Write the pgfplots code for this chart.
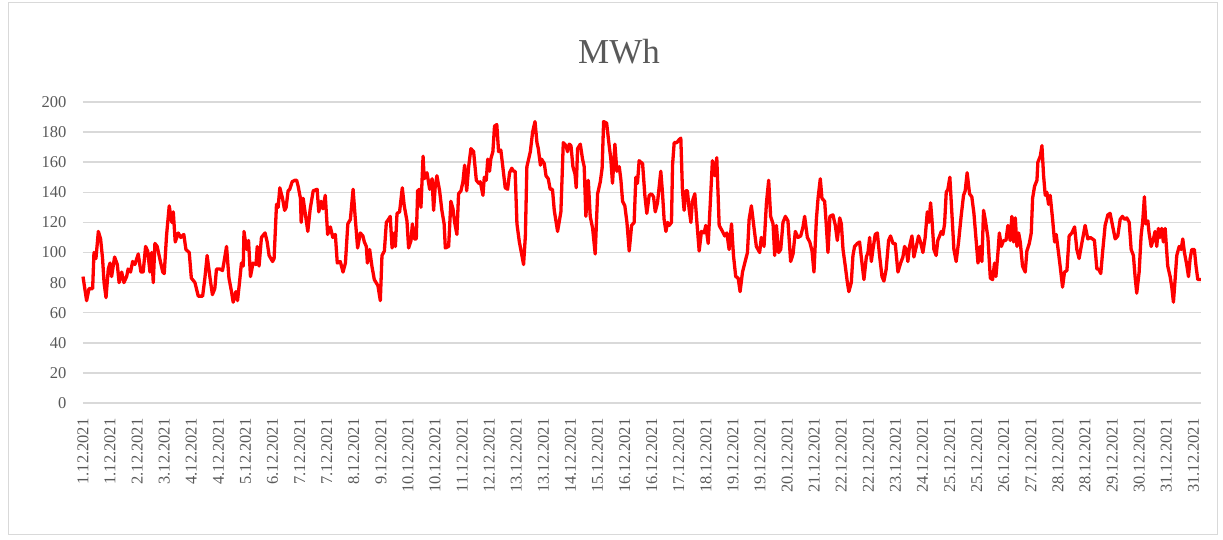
\documentclass[border=0pt]{standalone}
\usepackage{fontspec}
\setmainfont{Liberation Serif}
\usepackage{pgfplots}
\pgfplotsset{compat=1.18}
\definecolor{txtgray}{HTML}{595959}
\definecolor{gridgray}{HTML}{D9D9D9}
\begin{document}
\begin{tikzpicture}[x=1pt,y=1pt]
\path[use as bounding box] (-83,-137) rectangle (1140,403);
\draw[gridgray, line width=1pt] (-74,400) rectangle (1134,-132);
\node[text=txtgray, font=\fontsize{35}{42}\selectfont] at (536,351) {MWh};
\begin{axis}[at={(0,0)}, anchor=south west, scale only axis,
  width=1118pt, height=301pt,
  xmin=0, xmax=743, ymin=0, ymax=200,
  ytick={0,20,...,200},
  xtick={0,18,...,738},
  xticklabels={1.12.2021,1.12.2021,2.12.2021,3.12.2021,4.12.2021,4.12.2021,5.12.2021,6.12.2021,7.12.2021,7.12.2021,8.12.2021,9.12.2021,10.12.2021,10.12.2021,11.12.2021,12.12.2021,13.12.2021,13.12.2021,14.12.2021,15.12.2021,16.12.2021,16.12.2021,17.12.2021,18.12.2021,19.12.2021,19.12.2021,20.12.2021,21.12.2021,22.12.2021,22.12.2021,23.12.2021,24.12.2021,25.12.2021,25.12.2021,26.12.2021,27.12.2021,28.12.2021,28.12.2021,29.12.2021,30.12.2021,31.12.2021,31.12.2021},
  ymajorgrids,
  major grid style={gridgray, line width=1.5pt},
  axis line style={draw=none},
  tick style={draw=none},
  ticklabel style={font=\fontsize{16.5}{19}\selectfont, text=txtgray},
  xticklabel style={rotate=90, anchor=east, xshift=-12pt},
  yticklabel style={xshift=-13pt},
  /pgf/number format/assume math mode=true,
  clip=false]
\addplot[red, line width=3.3pt, line join=round] coordinates {
(0,84) (2.4,68) (4,76) (6.4,76) (7.3,100) (8.6,96) (10.2,114) (11.7,109) (13,96) (14,80)
(15.3,70) (16.8,89) (18,93) (19,84) (21,97) (22.8,92) (24,80) (25.7,87) (27.2,80) (29,84)
(30,89) (31.6,87) (33,94) (34.5,92) (36.7,99) (38.5,87) (40,87) (41.6,104) (43,101) (44.5,87)
(45.6,100) (46.7,80) (47.8,106) (49.3,104) (51,96) (53,87) (54,86) (55.5,111) (57.3,131) (59,120)
(60,127) (61.3,107) (63.3,113) (65,110) (67,112) (68.4,102) (70.6,100) (72,83) (74.4,80) (76.6,71)
(79.5,71) (81,83) (82.5,98) (84.3,84) (86,72) (87.6,76) (88.7,89) (91,89) (92.7,88) (93.6,93)
(95.4,104) (97,83) (98.7,74) (99.8,67) (101.6,74) (102.7,68) (104,80) (105.3,93) (106.5,91) (107,114)
(108.7,102) (110,108) (111.3,84) (113,93) (115,92) (115.8,104) (117,91) (118.6,110) (121,113) (122.4,107)
(123.7,98) (126,94) (127,96) (128.6,132) (129.7,130) (130.8,143) (132.6,136) (134,128) (135,130) (136.3,141)
(137.4,142) (139,147) (140.8,148) (142,148) (143,144) (144.5,136) (145,120) (146.3,136)
(149.4,114) (151,129) (153,141) (155.6,142) (156.7,127) (158.2,134) (159.5,129) (161,138) (162.6,112) (164.4,117)
(166,110) (167.7,112) (169,93) (171,94) (172.8,87) (174.4,93) (176,119) (177.7,122) (179.5,142) (181,122)
(182.5,103) (184.3,113) (186,111) (187,107) (188.3,104) (189,93) (190.5,102) (192,91) (193.6,82) (196,78)
(197.6,68) (198.7,98) (200.3,101) (201.6,120) (203,122) (204.2,124) (205.4,103) (207,113) (207.6,104) (208.7,126)
(210.4,127) (212.2,143) (213.5,131) (215.3,121) (216.4,103) (218,108) (218.9,119) (220.2,109) (221.5,109) (222.4,141)
(223.7,142) (224.6,130) (226,164) (226.8,149) (228.6,153) (230.4,142) (232,149) (233,128) (234.1,144) (235.2,151)
(237,141) (238.5,128) (240,119) (240.8,103) (243,104) (244.5,134) (245.9,129) (247,120) (248.5,112) (249.6,139)
(251.2,141) (252.5,147) (253.6,158) (255,141) (256.3,157) (257.8,169) (259.6,167) (261.4,148) (263,146) (264,147)
(265.8,138) (266.7,150) (268,148) (269,162) (270.2,154) (271,162) (272.4,167) (273.5,184) (275,185) (276.2,167)
(277.7,168) (279,157) (280.6,143) (282.2,142) (283.5,153) (285,156) (286.1,154) (287.2,154) (288.4,119) (290,107)
(291.7,98) (292.8,92) (294,111) (295,157)
(297.3,167) (298.8,180) (300.4,187) (301.7,173) (302.6,169) (304,158) (304.8,162) (306.6,159) (307.7,151) (309.2,149)
(310.5,142) (312,142) (313.2,128) (315.4,114) (317.6,127) (319.2,173) (321,171) (322,167) (323.2,172) (324.3,171)
(325.6,157) (327,152) (327.8,143) (328.7,169) (330.5,172) (332,162) (333.1,157) (334.2,124) (335.8,148) (337.1,124)
(338.7,116) (340.4,99) (342,139) (343.8,147) (345,156) (346,187) (348,186) (349.7,171) (350.8,162) (351.9,146)
(353.5,172) (354.8,154) (356.4,157) (357.5,148) (358.6,134) (360.1,131) (361.5,120) (363,101) (364.6,118) (366.3,120)
(367.4,150) (368.5,146) (369.6,161) (371.9,159) (373.4,138) (374.7,126) (376.3,138) (377.8,139) (379.2,137) (380.3,127)
(381.8,133) (384,154) (385.1,140) (386.2,122) (387.4,114) (388.5,120) (389.6,118) (391.1,120) (391.8,158) (392.9,173)
(394.7,173) (396.2,175) (397.3,176) (398.4,141) (399.5,128) (400.6,141) (401.7,141) (402.8,129) (404,120) (405,134)
(406.6,139) (408,120) (409.5,101) (411,114) (412.8,113) (413.9,118) (415.5,106) (416.8,131) (418.3,161) (419.9,151)
(421.2,163) (422.8,118) (425,114) (426.5,111) (427.9,113) (429.4,102) (431,119) (432.3,98) (433.8,84) (435.4,83)
(436.7,74) (438.3,87) (439.8,93) (441.6,100) (442.7,122)
(444.2,131) (446,116) (447.5,104) (449.7,100) (450.8,110) (452.6,104) (454.2,133) (455.7,148) (457,124) (458.6,119)
(459.7,98) (460.8,118) (462.3,100) (463.7,102) (465.2,120) (466.8,124) (468.5,121) (470.3,94) (471.9,99) (473.4,114)
(475.2,110) (477,111) (478.5,117) (479.6,124) (481.4,110) (483,107) (484.5,101) (485.8,87) (487.4,122) (488.5,136)
(490,149) (491.1,136) (492.9,134) (494,118) (495.1,100) (496.4,124) (498.4,125) (500,118) (501.3,108) (502.9,123)
(504,119) (505.1,102) (506.6,91) (508,80) (509,74) (510.6,80) (511.7,98) (512.8,104) (514.6,106) (516.1,107)
(517.7,93) (519,82) (520.6,97) (521.7,100) (522.8,110) (523.9,94) (525,102) (526.5,112) (527.9,113) (529.4,98)
(531,84) (532.3,81) (533.8,89) (535.4,108) (536.7,111) (538.3,106) (539.8,106) (541.6,87) (543.4,93) (544.9,97)
(546,104) (547.1,102) (548.2,94) (549.3,104) (550.9,111) (552.2,97) (553.8,104) (555.3,111) (556.6,107) (558.2,100)
(559.7,110) (561.1,127) (562.2,120) (563.3,133) (564.2,122) (565.5,102) (567,98) (568.1,108) (569.3,111) (570.4,114)
(571.5,112) (572.6,119) (573.7,140) (574.8,142) (576.1,150) (577.4,127) (578.8,102) (580.3,94) (581.9,107) (583.6,124)
(585.2,138) (586.3,141) (587.6,153) (589.2,139) (590.7,137) (592.1,126)
(594.8,93) (596.3,104) (597.4,94) (598.5,128) (599.6,122) (601.4,110) (603,83) (604.5,82) (605.8,93) (606.7,84)
(608,99) (609,113) (610.3,104) (611.8,108) (613.4,108) (614.7,118) (616.2,108) (617.3,124) (618.5,107) (619.6,123)
(620.7,104) (621.8,113) (622.9,107) (624.4,91) (626.2,87) (627.3,101) (628.9,106) (630.2,113) (631.1,136) (632.4,144)
(634,148) (634.6,160) (636.2,164) (637.3,171) (638.4,151) (639.5,138) (640.6,140) (641.7,132) (642.8,138) (644.4,122)
(645.7,107) (646.8,112) (648.3,100) (649.4,91) (651,77) (652.3,87) (653.9,88) (655.4,111) (657.2,113) (659,117)
(660.5,102) (662,96) (663.4,104) (664.9,112) (666,118) (667.8,109) (669.4,110) (670.9,109) (672.2,108) (673.8,89)
(674.9,89) (676.4,86) (677.6,100) (679.3,118) (681.1,125) (682.6,126) (684.2,118) (686,109) (687.7,111) (689.3,122)
(690.8,124) (692.2,122) (693.7,123) (695.3,120) (696.6,102) (698.1,98) (699.2,84) (700.3,73) (701.9,87) (703.2,111)
(704.3,121) (705.4,137) (706.3,119) (707.7,121) (708.5,113) (709.9,104) (711.4,109) (712.5,114) (713.6,104) (714.7,116)
(715.8,110) (716.9,116) (718,107) (719.2,116) (720.9,91) (722.5,84) (723.6,77) (724.7,67) (725.8,82) (726.9,98)
(728.5,104) (729.8,102) (730.9,109) (732,100) (733.5,92) (734.7,84) (735.8,96) (736.9,102) (738.6,102) (739.7,91)
(740.9,82) (743,82)
};
\end{axis}
\end{tikzpicture}
\end{document}
